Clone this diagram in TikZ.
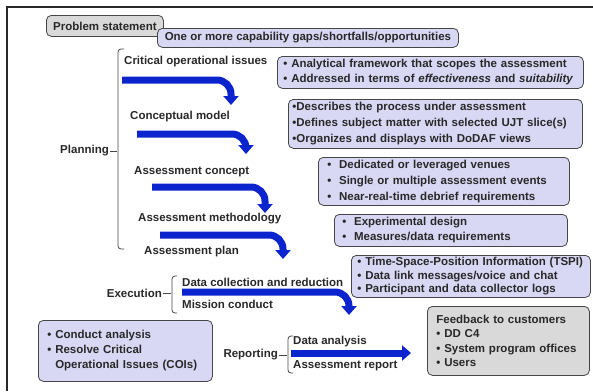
\documentclass[tikz,border=0pt]{standalone}
\usepackage{fontspec}
\setmainfont{Liberation Sans}
\usepackage{tikz}
\usetikzlibrary{arrows.meta}
\definecolor{lav}{RGB}{216,216,245}
\definecolor{pale}{RGB}{217,217,217}
\definecolor{edge}{RGB}{70,70,70}
\definecolor{ink}{RGB}{40,40,40}
\definecolor{flowblue}{RGB}{12,36,205}

\begin{document}
\begin{tikzpicture}[x=1pt,y=1pt,
				lbl/.style={font=\bfseries\fontsize{11.5}{13}\selectfont, text=ink, inner sep=1pt},
				note/.style={draw=edge, fill=lav, rounded corners=5pt, line width=0.8pt, align=left, anchor=north west, inner ysep=0pt, text=ink, font=\bfseries\fontsize{11.5}{15}\selectfont},
				brace/.style={draw=edge, line width=0.8pt},
				flow/.style={draw=flowblue, line width=7pt, rounded corners=14pt, -{Triangle[width=15pt,length=9pt]}}]
				\useasboundingbox (0,0) rectangle (593,-391);
				\draw[line width=1.5pt, ink] (7,-391) -- (7,-7) -- (593,-7);

				\node[note, fill=pale, minimum width=117pt, minimum height=21pt] (prob) at (46,-15) {Problem statement};
				\node[note, minimum width=301pt, minimum height=19pt] (gaps) at (157,-28) {One or more capability gaps/shortfalls/opportunities};

				\node[lbl, anchor=east] (plan) at (110,-151) {Planning};
				\draw[brace] (124,-49) -- (121,-49) to[out=180,in=90] (118,-52) -- (118,-246) to[out=-90,in=180] (121,-249) -- (124,-249);
				\draw[brace] (plan.east) -- ++(7,0);

				\node[lbl, anchor=west] (coi) at (123,-62)  {Critical operational issues};
				\node[lbl, anchor=west] (cm)  at (129,-117) {Conceptual model};
				\node[lbl, anchor=west] (ac)  at (133,-172) {Assessment concept};
				\node[lbl, anchor=west] (am)  at (137,-219) {Assessment methodology};
				\node[lbl, anchor=west] (ap)  at (143,-252) {Assessment plan};

				\coordinate (coi-s) at (122,-80);  \coordinate (coi-e) at (231,-105);
				\coordinate (cm-s)  at (137,-134); \coordinate (cm-e)  at (246,-154);
				\coordinate (ac-s)  at (152,-187); \coordinate (ac-e)  at (265,-213);
				\coordinate (am-s)  at (160,-235); \coordinate (am-e)  at (283,-259);
				\draw[flow] (coi-s) -| (coi-e);
				\draw[flow] (cm-s) -| (cm-e);
				\draw[flow] (ac-s) -| (ac-e);
				\draw[flow] (am-s) -| (am-e);

				\node[note, text width=294pt, inner xsep=6pt, minimum height=32pt] (coibox) at (277,-56)
					{• Analytical framework that scopes the assessment\\• Addressed in terms of \textit{effectiveness} and \textit{suitability}};
				\node[note, text width=286pt, inner xsep=4pt, minimum height=49pt, font=\bfseries\fontsize{11.5}{16}\selectfont] (cmbox) at (288,-99)
					{•Describes the process under assessment\\•Defines subject matter with selected UJT slice(s)\\•Organizes and displays with DoDAF views};
				\node[note, text width=233pt, inner xsep=9pt, minimum height=48pt, font=\bfseries\fontsize{11.5}{16}\selectfont] (acbox) at (318,-157)
					{•\ \ Dedicated or leveraged venues\\•\ \ Single or multiple assessment events\\•\ \ Near-real-time debrief requirements};
				\node[note, text width=217pt, inner xsep=8pt, minimum height=32pt] (ambox) at (334,-214)
					{•\ \ Experimental design\\•\ \ Measures/data requirements};

				\node[lbl, anchor=east] (exec) at (163,-293) {Execution};
				\draw[brace] (177,-276) -- (175,-276) to[out=180,in=90] (172,-279) -- (172,-310) to[out=-90,in=180] (175,-313) -- (177,-313);
				\draw[brace] (exec.east) -- ++(8,0);
				\node[lbl, anchor=west] (dcr) at (181,-282) {Data collection and reduction};
				\node[lbl, anchor=west] (mc)  at (181,-304) {Mission conduct};
				\coordinate (dcr-s) at (182,-292); \coordinate (dcr-e) at (349,-315);
				\draw[flow] (dcr-s) -| (dcr-e);
				\node[note, text width=227pt, inner xsep=6pt, minimum height=42pt, font=\bfseries\fontsize{11.5}{13.5}\selectfont] (dcrbox) at (351,-255)
					{• Time-Space-Position Information (TSPI)\\• Data link messages/voice and chat\\• Participant and data collector logs};

				\node[note, text width=156pt, inner xsep=9pt, minimum height=61pt] (anbox) at (38,-320)
					{• Conduct analysis\\• Resolve Critical\\\phantom{•~}Operational Issues (COIs)};
				\node[lbl, anchor=east] (rep) at (279,-355) {Reporting};
				\draw[brace] (293,-336) -- (291,-336) to[out=180,in=90] (288,-339) -- (288,-370) to[out=-90,in=180] (291,-373) -- (293,-373);
				\draw[brace] (rep.east) -- ++(8,0);
				\node[lbl, anchor=west] (da) at (292,-342) {Data analysis};
				\node[lbl, anchor=west] (ar) at (292,-366) {Assessment report};
				\coordinate (da-s) at (291,-353); \coordinate (da-e) at (411,-353);
				\draw[flow] (da-s) -- (da-e);
				\node[note, fill=pale, text width=144pt, inner xsep=9pt, minimum height=69pt, font=\bfseries\fontsize{11.5}{14.5}\selectfont] (fbbox) at (427,-306)
					{Feedback to customers\\• DD C4\\• System program offices\\• Users};
			\end{tikzpicture}
\end{document}
